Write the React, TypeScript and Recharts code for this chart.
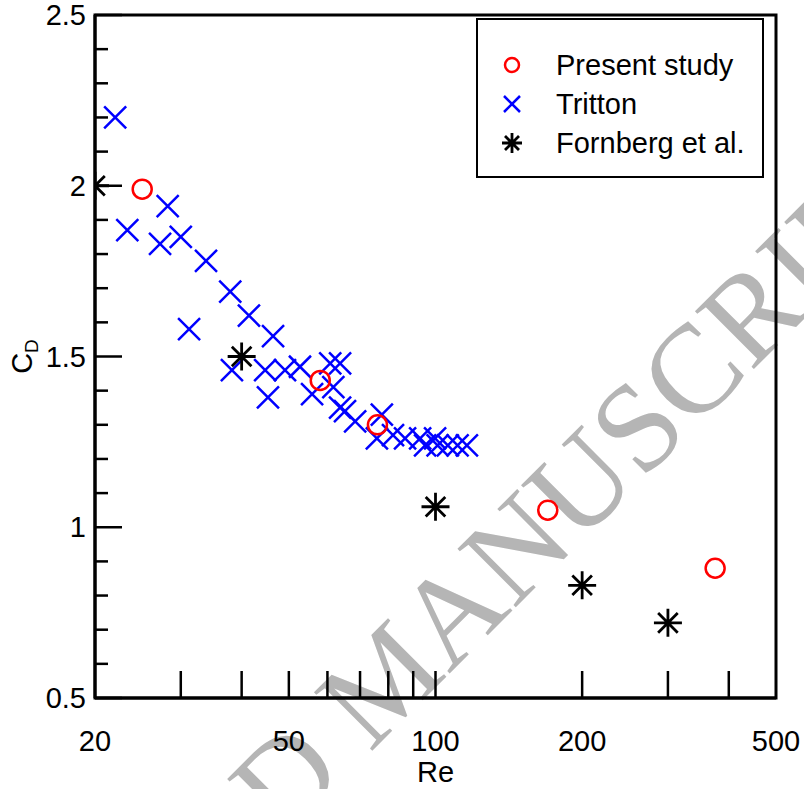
import React from 'react';
import { ScatterChart, Scatter, XAxis, YAxis, Legend, ReferenceArea } from 'recharts';

// Drag coefficient vs Reynolds number
const RE_PRESENT = [25, 58, 76, 170, 375];
const CD_PRESENT = [1.99, 1.43, 1.3, 1.05, 0.88];

const RE_TRITTON = [
  22.0, 23.3, 27.2, 28.2, 30.0, 31.2, 33.8, 37.9, 38.2, 41.4, 44.7, 45.3, 46.4, 49.1, 52.7, 55.8, 60.8,
  63.7, 61.7, 63.7, 65.2, 68.4, 77.6, 75.8, 81.8, 86.6, 93.0, 95.2, 99.8, 101, 106, 111, 116,
];
const CD_TRITTON = [
  2.2, 1.87, 1.83, 1.94, 1.85, 1.58, 1.78, 1.69, 1.46, 1.62, 1.46, 1.38, 1.56, 1.46, 1.47, 1.39, 1.48,
  1.48, 1.41, 1.35, 1.34, 1.31, 1.33, 1.26, 1.27, 1.26, 1.26, 1.24, 1.26, 1.24, 1.24, 1.24, 1.24,
];

const RE_FORNBERG = [20, 40, 100, 200, 300];
const CD_FORNBERG = [2.0, 1.5, 1.06, 0.83, 0.72];

const X_TICKS = [20, 30, 40, 50, 60, 70, 80, 90, 100, 200, 300, 400, 500];
const X_LABELS = [20, 50, 100, 200, 500];
const Y_TICKS = [0.5, 0.6, 0.7, 0.8, 0.9, 1, 1.1, 1.2, 1.3, 1.4, 1.5, 1.6, 1.7, 1.8, 1.9, 2, 2.1, 2.2, 2.3, 2.4, 2.5];
const Y_LABELS = [0.5, 1, 1.5, 2, 2.5];

const zip = (xs: number[], ys: number[]) => xs.map((re, i) => ({ re, cd: ys[i] }));
const presentData = zip(RE_PRESENT, CD_PRESENT);
const trittonData = zip(RE_TRITTON, CD_TRITTON);
const fornbergData = zip(RE_FORNBERG, CD_FORNBERG);

const FONT = '"Liberation Sans", Arial, Helvetica, sans-serif';

const circleMark = (cx: number, cy: number, r: number) => (
  <circle cx={cx} cy={cy} r={r} fill="none" stroke="#ff0000" strokeWidth={2.5} />
);
const crossMark = (cx: number, cy: number, h: number) => (
  <path
    d={`M${cx - h},${cy - h}L${cx + h},${cy + h}M${cx - h},${cy + h}L${cx + h},${cy - h}`}
    stroke="#0000ff"
    strokeWidth={2.5}
    fill="none"
  />
);
const starMark = (cx: number, cy: number, h: number) => {
  const d = h * 0.7;
  return (
    <path
      d={`M${cx},${cy - h}L${cx},${cy + h}M${cx - h},${cy}L${cx + h},${cy}M${cx - d},${cy - d}L${cx + d},${cy + d}M${cx - d},${cy + d}L${cx + d},${cy - d}`}
      stroke="#000"
      strokeWidth={2.8}
      fill="none"
    />
  );
};

const XTick = (props: any) => {
  const { x, y, payload } = props;
  const v = payload.value;
  return (
    <g>
      {v > 20 && v < 500 && <line x1={x} y1={y} x2={x} y2={y - 27} stroke="#000" strokeWidth={2.5} />}
      {X_LABELS.includes(v) && (
        <text x={x} y={y + 53} textAnchor="middle" fontSize={29} fontFamily={FONT} fill="#000">
          {v}
        </text>
      )}
    </g>
  );
};

const YTick = (props: any) => {
  const { x, y, payload } = props;
  const v = payload.value;
  const major = Y_LABELS.some((m) => Math.abs(m - v) < 1e-6);
  return (
    <g>
      <line x1={x} y1={y} x2={x + (major ? 27 : 13)} y2={y} stroke="#000" strokeWidth={2.5} />
      {major && (
        <text x={x - 9} y={y + 10} textAnchor="end" fontSize={29} fontFamily={FONT} fill="#000">
          {v}
        </text>
      )}
    </g>
  );
};

const LEGEND_ITEMS = [
  { name: 'Present study', mark: (cx: number, cy: number) => circleMark(cx, cy, 7) },
  { name: 'Tritton', mark: (cx: number, cy: number) => crossMark(cx, cy, 8) },
  { name: 'Fornberg et al.', mark: (cx: number, cy: number) => starMark(cx, cy, 10) },
];

const LegendBox = () => (
  <div
    style={{
      width: 288,
      height: 160,
      boxSizing: 'border-box',
      border: '2.5px solid #000',
      background: '#fff',
      position: 'relative',
    }}
  >
    <svg width={284} height={156} style={{ position: 'absolute', left: 0, top: 0 }}>
      {LEGEND_ITEMS.map((item, i) => {
        const cy = 45 + i * 39;
        return (
          <g key={item.name}>
            {item.mark(34, cy)}
            <text x={78} y={cy + 10} fontSize={29} fontFamily={FONT} fill="#000">
              {item.name}
            </text>
          </g>
        );
      })}
    </svg>
  </div>
);

export default function App() {
  return (
    <div style={{ position: 'absolute', left: 0, top: 0, width: 804, height: 789, background: '#fff' }}>
      <svg width={804} height={789} style={{ position: 'absolute', left: 0, top: 0 }}>
        <text
          x={-113}
          y={1236}
          transform="rotate(-45, -113, 1236)"
          textAnchor="start"
          fontSize={126}
          fontFamily='"Liberation Serif", "Times New Roman", serif'
          fill="#b5b5b5"
        >
          ACCEPTED MANUSCRIPT
        </text>
      </svg>
      <div style={{ position: 'absolute', left: 0, top: 0 }}>
        <ScatterChart width={804} height={789} margin={{ top: 15, right: 28, bottom: 0, left: 0 }}>
          <XAxis
            type="number"
            dataKey="re"
            scale="log"
            domain={[20, 500]}
            allowDataOverflow
            ticks={X_TICKS}
            interval={0}
            height={91}
            tickSize={0}
            tickMargin={0}
            tick={<XTick />}
            tickLine={false}
            axisLine={{ stroke: '#000', strokeWidth: 3 }}
            label={{
              content: (p: any) => {
                const vb = p.viewBox;
                return (
                  <text x={vb.x + vb.width / 2} y={vb.y + 84} textAnchor="middle" fontSize={29} fontFamily={FONT} fill="#000">
                    Re
                  </text>
                );
              },
            }}
          />
          <YAxis
            type="number"
            dataKey="cd"
            domain={[0.5, 2.5]}
            allowDataOverflow
            ticks={Y_TICKS}
            interval={0}
            width={95}
            tickSize={0}
            tickMargin={0}
            tick={<YTick />}
            tickLine={false}
            axisLine={{ stroke: '#000', strokeWidth: 3 }}
            label={{
              content: (p: any) => {
                const vb = p.viewBox;
                const cx = vb.x + 32;
                const cy = vb.y + vb.height / 2;
                return (
                  <text
                    x={cx}
                    y={cy}
                    transform={`rotate(-90, ${cx}, ${cy})`}
                    textAnchor="middle"
                    fontSize={29}
                    fontFamily={FONT}
                    fill="#000"
                  >
                    C<tspan fontSize={19} dy={6}>D</tspan>
                  </text>
                );
              },
            }}
          />
          <ReferenceArea x1={20} x2={500} y1={0.5} y2={2.5} fill="none" stroke="#000" strokeWidth={3} ifOverflow="visible" />
          <Scatter
            name="Tritton"
            data={trittonData}
            isAnimationActive={false}
            shape={(p: any) => crossMark(p.cx, p.cy, 11)}
          />
          <Scatter
            name="Present study"
            data={presentData}
            isAnimationActive={false}
            shape={(p: any) => circleMark(p.cx, p.cy, 9.5)}
          />
          <Scatter
            name="Fornberg et al."
            data={fornbergData}
            isAnimationActive={false}
            shape={(p: any) => starMark(p.cx, p.cy, 14)}
          />
          <Legend
            layout="vertical"
            align="center"
            verticalAlign="middle"
            content={() => <LegendBox />}
            wrapperStyle={{ position: 'absolute', left: 476, top: 18, width: 288, height: 160 }}
          />
        </ScatterChart>
      </div>
    </div>
  );
}
